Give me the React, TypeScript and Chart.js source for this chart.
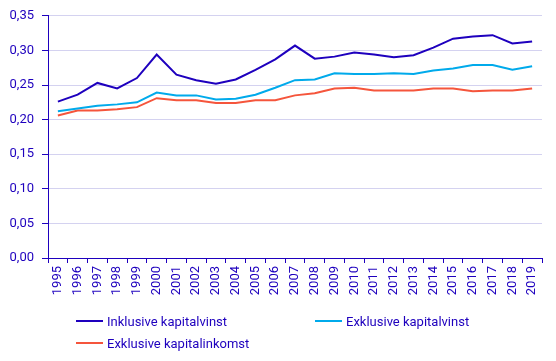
import React, { useEffect, useRef } from "react";
import { Chart, registerables } from "chart.js";

Chart.register(...registerables);

const years = ["1995","1996","1997","1998","1999","2000","2001","2002","2003","2004","2005","2006","2007","2008","2009","2010","2011","2012","2013","2014","2015","2016","2017","2018","2019"];
const inklusiveKapitalvinst = [0.226,0.236,0.253,0.245,0.260,0.294,0.265,0.257,0.252,0.258,0.272,0.287,0.307,0.288,0.291,0.297,0.294,0.290,0.293,0.304,0.317,0.320,0.322,0.310,0.313];
const exklusiveKapitalvinst = [0.212,0.216,0.220,0.222,0.225,0.239,0.235,0.235,0.229,0.230,0.236,0.246,0.257,0.258,0.267,0.266,0.266,0.267,0.266,0.271,0.274,0.279,0.279,0.272,0.277];
const exklusiveKapitalinkomst = [0.206,0.213,0.213,0.215,0.218,0.231,0.228,0.228,0.224,0.224,0.228,0.228,0.235,0.238,0.245,0.246,0.242,0.242,0.242,0.245,0.245,0.241,0.242,0.242,0.245];

const TEXT = "#1e00be";
const C_INKL = "#1e00be";
const C_EXVINST = "#00aaeb";
const C_EXINK = "#f5553c";
const FONT = "Roboto, 'Liberation Sans', Arial, sans-serif";

const seriesNames = ["Inklusive kapitalvinst", "Exklusive kapitalvinst", "Exklusive kapitalinkomst"];
const seriesColors = [C_INKL, C_EXVINST, C_EXINK];

export default function App() {
  const ref = useRef<HTMLCanvasElement | null>(null);

  useEffect(() => {
    document.body.style.margin = "0";
    const canvas = ref.current;
    if (!canvas) return;
    const chart = new Chart(canvas, {
      type: "line",
      data: {
        labels: years,
        datasets: [
          { label: seriesNames[0], data: inklusiveKapitalvinst, borderColor: C_INKL, backgroundColor: C_INKL, borderWidth: 2, pointRadius: 0, tension: 0 },
          { label: seriesNames[1], data: exklusiveKapitalvinst, borderColor: C_EXVINST, backgroundColor: C_EXVINST, borderWidth: 2, pointRadius: 0, tension: 0 },
          { label: seriesNames[2], data: exklusiveKapitalinkomst, borderColor: C_EXINK, backgroundColor: C_EXINK, borderWidth: 2, pointRadius: 0, tension: 0 },
        ],
      },
      options: {
        responsive: false,
        animation: false,
        layout: { padding: { top: 15, right: 14, bottom: 0, left: 0 } },
        plugins: { legend: { display: false }, tooltip: { enabled: false } },
        scales: {
          x: {
            offset: true,
            grid: { display: true, offset: true, drawOnChartArea: false, drawTicks: true, tickLength: 5, tickColor: TEXT, color: TEXT },
            border: { display: true, color: TEXT, width: 1 },
            ticks: { color: TEXT, font: { family: FONT, size: 13 }, minRotation: 90, maxRotation: 90, autoSkip: false, padding: 3 },
            afterFit: (s: any) => { s.height = 103; },
          },
          y: {
            min: 0,
            max: 0.35,
            ticks: {
              stepSize: 0.05,
              color: TEXT,
              font: { family: FONT, size: 13 },
              padding: 8,
              callback: (v: any) => Number(v).toFixed(2).replace(".", ","),
            },
            grid: { color: "#d4d2f0", tickColor: TEXT, tickLength: 6, lineWidth: 1 },
            border: { display: true, color: TEXT, width: 1 },
            afterFit: (s: any) => { s.width = 48; },
          },
        },
      },
    });
    return () => chart.destroy();
  }, []);

  const legendPos = [
    { x: 76, y: 321 },
    { x: 315, y: 321 },
    { x: 76, y: 343 },
  ];

  return (
    <div style={{ position: "relative", width: 556, height: 361, background: "#fff" }}>
      <canvas ref={ref} width={556} height={361} style={{ display: "block" }} />
      {seriesNames.map((name, i) => (
        <div
          key={name}
          style={{
            position: "absolute",
            left: legendPos[i].x,
            top: legendPos[i].y - 9,
            height: 18,
            display: "flex",
            alignItems: "center",
            fontFamily: FONT,
            fontSize: 13,
            color: TEXT,
            whiteSpace: "nowrap",
          }}
        >
          <span style={{ display: "inline-block", width: 27, height: 2, background: seriesColors[i], marginRight: 4 }} />
          <span>{name}</span>
        </div>
      ))}
    </div>
  );
}
